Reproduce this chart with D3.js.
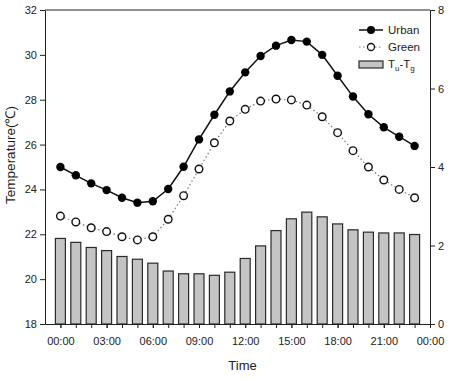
<!DOCTYPE html>
<html lang="en">
<head>
<meta charset="utf-8">
<script src="https://d3js.org/d3.v7.min.js"></script>
<title>Urban vs Green temperature</title>
<style>
    body { margin: 0; background: #fff; }
    text { font-family: "Liberation Sans", Arial, sans-serif; fill: #222; }
</style>
</head>
<body>
<div id="container"></div>
<script>
    // hourly values
    var hours = [0,1,2,3,4,5,6,7,8,9,10,11,12,13,14,15,16,17,18,19,20,21,22,23];
    var urban = [25.0,24.63,24.27,23.97,23.63,23.41,23.47,24.02,25.01,26.23,27.33,28.37,
                 29.22,29.95,30.41,30.66,30.59,30.0,29.07,28.14,27.35,26.77,26.35,25.94];
    var green = [22.81,22.55,22.29,22.12,21.89,21.75,21.89,22.67,23.72,24.91,26.08,27.05,
                 27.57,27.94,28.03,27.99,27.76,27.24,26.53,25.73,25.0,24.42,24.0,23.63];
    var diff  = [2.18,2.08,1.95,1.87,1.72,1.65,1.55,1.35,1.28,1.28,1.24,1.32,
                 1.67,1.99,2.38,2.68,2.85,2.73,2.55,2.40,2.34,2.32,2.32,2.28];
    var xTicks = [0,3,6,9,12,15,18,21,24];

    var margin = {top: 10, right: 20, bottom: 58, left: 45},
        width = 450 - margin.left - margin.right,
        height = 382 - margin.top - margin.bottom;

    var svg = d3.select("#container")
        .append("svg")
        .attr("width", 450)
        .attr("height", 382)
        .append("g")
        .attr("transform", "translate(" + margin.left + "," + margin.top + ")");

    var x = d3.scaleLinear().domain([-1, 24]).range([0, width]);
    var y = d3.scaleLinear().domain([18, 32]).range([height, 0]);
    var y2 = d3.scaleLinear().domain([0, 8]).range([height, 0]);

    // bars (Tu - Tg) on the right axis
    var bw = 10;
    svg.append("g").selectAll("rect")
        .data(hours)
        .enter()
        .append("rect")
        .attr("x", function(d) { return x(d) - bw / 2; })
        .attr("y", function(d, i) { return y2(diff[i]); })
        .attr("width", bw)
        .attr("height", function(d, i) { return height - y2(diff[i]); })
        .style("fill", "#c4c4c4")
        .style("stroke", "#2a2a2a")
        .style("stroke-width", 1.2);

    // green: dotted line + open circles
    var line = d3.line()
        .x(function(d) { return x(d[0]); })
        .y(function(d) { return y(d[1]); });

    svg.append("path")
        .datum(hours.map(function(h, i) { return [h, green[i]]; }))
        .attr("d", line)
        .style("fill", "none")
        .style("stroke", "#777")
        .style("stroke-width", 1.2)
        .style("stroke-dasharray", "1.5,2.5");

    svg.append("path")
        .datum(hours.map(function(h, i) { return [h, urban[i]]; }))
        .attr("d", line)
        .style("fill", "none")
        .style("stroke", "#111")
        .style("stroke-width", 1.5);

    svg.append("g").selectAll("circle")
        .data(hours)
        .enter()
        .append("circle")
        .attr("cx", function(d) { return x(d); })
        .attr("cy", function(d, i) { return y(green[i]); })
        .attr("r", 3.8)
        .style("fill", "#fff")
        .style("stroke", "#111")
        .style("stroke-width", 1.4);

    svg.append("g").selectAll("circle")
        .data(hours)
        .enter()
        .append("circle")
        .attr("cx", function(d) { return x(d); })
        .attr("cy", function(d, i) { return y(urban[i]); })
        .attr("r", 4.2)
        .style("fill", "#000");

    // frame top line
    svg.append("line")
        .attr("x1", 0).attr("x2", width)
        .attr("y1", 0).attr("y2", 0)
        .style("stroke", "#222");

    // axes
    var fmt = function(d) { return d3.format("02d")(d % 24) + ":00"; };

    var xMinor = svg.append("g")
        .attr("transform", "translate(0," + height + ")")
        .call(d3.axisBottom(x).tickValues(d3.range(0, 25)).tickSize(4).tickFormat(""));
    xMinor.select(".domain").remove();

    var xAxis = svg.append("g")
        .attr("transform", "translate(0," + height + ")")
        .call(d3.axisBottom(x).tickValues(xTicks).tickSize(4).tickSizeOuter(0).tickFormat(fmt));
    xAxis.selectAll("text").attr("dy", "1.25em").style("font-size", "11px");

    var yAxis = svg.append("g")
        .call(d3.axisLeft(y).ticks(7).tickSize(5).tickSizeOuter(0));
    yAxis.selectAll("text").style("font-size", "11px");

    var yAxis2 = svg.append("g")
        .attr("transform", "translate(" + width + ",0)")
        .call(d3.axisRight(y2).ticks(4).tickSize(5).tickSizeOuter(0));
    yAxis2.selectAll("text").style("font-size", "11px");

    svg.selectAll(".domain, .tick line").style("stroke", "#222");

    // axis titles
    svg.append("text")
        .attr("x", width / 2 + 5)
        .attr("y", height + 46)
        .attr("text-anchor", "middle")
        .style("font-size", "13px")
        .text("Time");

    svg.append("text")
        .attr("transform", "translate(-30," + (height / 2 - 12) + ") rotate(-90)")
        .attr("text-anchor", "middle")
        .style("font-size", "13.5px")
        .text("Temperature(℃)");

    // legend
    var lg = svg.append("g").attr("transform", "translate(314,20)");
    lg.append("line").attr("x1", 0).attr("x2", 24).attr("y1", 0).attr("y2", 0)
        .style("stroke", "#111").style("stroke-width", 1.5);
    lg.append("circle").attr("cx", 12).attr("cy", 0).attr("r", 4).style("fill", "#000");
    lg.append("text").attr("x", 29).attr("y", 4).style("font-size", "11.5px").text("Urban");

    lg.append("line").attr("x1", 0).attr("x2", 24).attr("y1", 17).attr("y2", 17)
        .style("stroke", "#777").style("stroke-width", 1.2).style("stroke-dasharray", "1.5,2.5");
    lg.append("circle").attr("cx", 12).attr("cy", 17).attr("r", 3.5)
        .style("fill", "#fff").style("stroke", "#111").style("stroke-width", 1.3);
    lg.append("text").attr("x", 29).attr("y", 21).style("font-size", "11.5px").text("Green");

    lg.append("rect").attr("x", 0).attr("y", 31).attr("width", 24).attr("height", 7)
        .style("fill", "#c4c4c4").style("stroke", "#2a2a2a").style("stroke-width", 1.2);
    var t = lg.append("text").attr("x", 29).attr("y", 38).style("font-size", "11.5px");
    t.append("tspan").text("T");
    t.append("tspan").attr("dy", 3).style("font-size", "8px").text("u");
    t.append("tspan").attr("dy", -3).text("-T");
    t.append("tspan").attr("dy", 3).style("font-size", "8px").text("g");
</script>
</body>
</html>
